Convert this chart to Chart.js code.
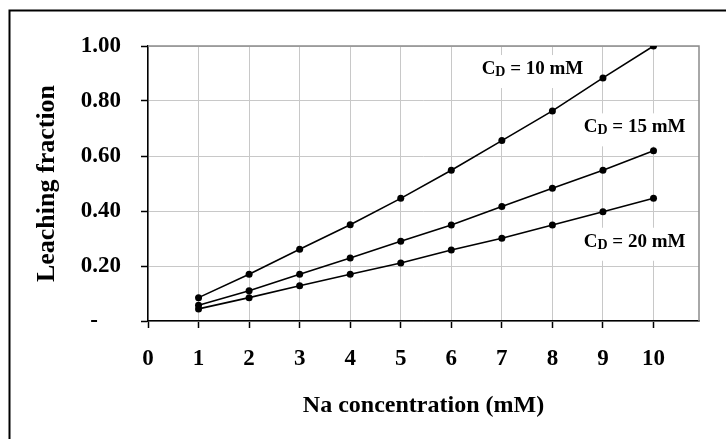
<!DOCTYPE html>
<html lang="en">
<head>
<meta charset="UTF-8">
<title>Leaching fraction vs Na concentration</title>
<script src="https://cdn.jsdelivr.net/npm/chart.js"></script>
<style>
  html, body { margin: 0; padding: 0; background: #fff; }
  canvas { display: block; }
</style>
</head>
<body>
<canvas id="chart" width="726" height="439"></canvas>
<script>
// Na concentration (mM)
const naConc = [1, 2, 3, 4, 5, 6, 7, 8, 9, 10];
// leaching fraction, one array per C_D
const cd10 = [0.085, 0.170, 0.261, 0.350, 0.446, 0.548, 0.656, 0.764, 0.884, 1.000];
const cd15 = [0.057, 0.110, 0.170, 0.229, 0.290, 0.349, 0.416, 0.483, 0.548, 0.619];
const cd20 = [0.044, 0.085, 0.128, 0.170, 0.211, 0.258, 0.301, 0.349, 0.397, 0.446];
const seriesNames = ['10 mM', '15 mM', '20 mM'];
const xTicks = [0, 1, 2, 3, 4, 5, 6, 7, 8, 9, 10];
const yTicks = [0, 0.2, 0.4, 0.6, 0.8, 1.0];
const yTickLabels = ['-    ', '0.20', '0.40', '0.60', '0.80', '1.00'];

const serif = '"Liberation Serif", "Times New Roman", serif';

function toPoints(ys) {
    return naConc.map((x, i) => ({ x: x, y: ys[i] }));
}

const datasets = [cd10, cd15, cd20].map((ys, i) => ({
    label: seriesNames[i],
    data: toPoints(ys),
    borderColor: '#000',
    backgroundColor: '#000',
    borderWidth: 1.6,
    pointRadius: 3.5,
    pointBorderWidth: 0,
    showLine: true,
    tension: 0
}));

// where each "C_D = .." label sits (data units, left/baseline)
const labelAnchors = [
    { x: 6.6, y: 0.898 },
    { x: 8.62, y: 0.686 },
    { x: 8.62, y: 0.270 }
];

const framePlugin = {
    id: 'frame',
    beforeDraw(chart) {
        const ctx = chart.ctx;
        ctx.save();
        ctx.fillStyle = '#fff';
        ctx.fillRect(0, 0, chart.width, chart.height);
        ctx.strokeStyle = '#000';
        ctx.lineWidth = 2;
        ctx.strokeRect(9.5, 10.5, 800, 800);
        ctx.restore();
    },
    beforeDatasetsDraw(chart) {
        const { ctx, chartArea: a, scales } = chart;
        ctx.save();
        // top and right edge of the plot area
        ctx.strokeStyle = '#8c8c8c';
        ctx.lineWidth = 1.5;
        ctx.beginPath();
        ctx.moveTo(a.left, a.top);
        ctx.lineTo(a.right, a.top);
        ctx.lineTo(a.right, a.bottom);
        ctx.stroke();

        // series labels with white boxes
        labelAnchors.forEach((p, i) => {
            const x = scales.x.getPixelForValue(p.x);
            const y = scales.y.getPixelForValue(p.y);
            const big = 'bold 19px ' + serif;
            const small = 'bold 14px ' + serif;
            const rest = ' = ' + seriesNames[i];
            ctx.font = big;
            const wC = ctx.measureText('C').width;
            const wR = ctx.measureText(rest).width;
            ctx.font = small;
            const wD = ctx.measureText('D').width;
            const w = wC + wD + wR;
            ctx.fillStyle = '#fff';
            ctx.fillRect(x - 5, y - 19, w + 10, 33);
            ctx.fillStyle = '#000';
            ctx.textBaseline = 'alphabetic';
            ctx.textAlign = 'left';
            ctx.font = big;
            ctx.fillText('C', x, y);
            ctx.font = small;
            ctx.fillText('D', x + wC, y + 2);
            ctx.font = big;
            ctx.fillText(rest, x + wC + wD, y);
        });
        ctx.restore();
    }
};

new Chart(document.getElementById('chart'), {
    type: 'scatter',
    data: { datasets: datasets },
    options: {
        responsive: false,
        animation: false,
        devicePixelRatio: 1,
        layout: { padding: { left: 0, top: 46, right: 27, bottom: 0 } },
        plugins: {
            legend: { display: false },
            tooltip: { enabled: false }
        },
        scales: {
            x: {
                type: 'linear',
                min: 0,
                max: 10.9,
                afterBuildTicks(scale) {
                    scale.ticks = xTicks.map(v => ({ value: v }));
                },
                afterFit(scale) { scale.height = 118; },
                grid: {
                    color: '#c8c8c8',
                    lineWidth: 1,
                    tickLength: 7,
                    tickColor: '#000',
                    tickWidth: 1.5
                },
                border: { color: '#000', width: 1.5 },
                ticks: {
                    color: '#000',
                    padding: 17,
                    font: { family: serif, size: 23, weight: 'bold' },
                    callback: v => String(v)
                },
                title: {
                    display: true,
                    text: 'Na concentration (mM)',
                    color: '#000',
                    font: { family: serif, size: 24, weight: 'bold' },
                    padding: { top: 0, bottom: 19 }
                }
            },
            y: {
                min: 0,
                max: 1,
                afterBuildTicks(scale) {
                    scale.ticks = yTicks.map(v => ({ value: v }));
                },
                afterFit(scale) { scale.width = 148; },
                grid: {
                    color: '#c8c8c8',
                    lineWidth: 1,
                    tickLength: 7,
                    tickColor: '#000',
                    tickWidth: 1.5
                },
                border: { color: '#000', width: 1.5 },
                ticks: {
                    color: '#000',
                    padding: 20,
                    font: { family: serif, size: 23, weight: 'bold' },
                    callback: (v, i) => yTickLabels[i]
                },
                title: {
                    display: true,
                    text: 'Leaching fraction',
                    color: '#000',
                    font: { family: serif, size: 26, weight: 'bold' },
                    padding: { top: 32, bottom: 0 }
                }
            }
        }
    },
    plugins: [framePlugin]
});
</script>
</body>
</html>
